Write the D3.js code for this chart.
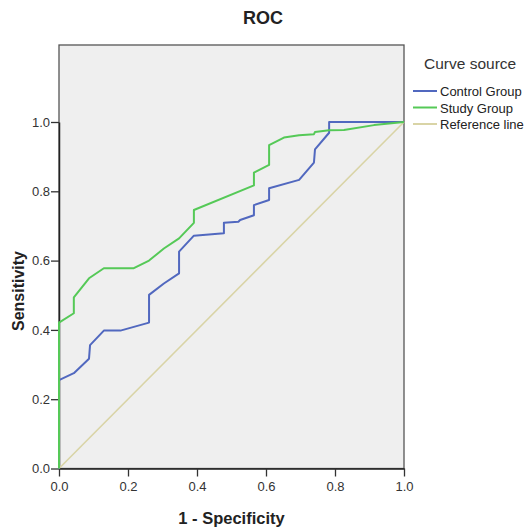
<!DOCTYPE html>
<html>
<head>
<meta charset="utf-8">
<script src="https://cdn.jsdelivr.net/npm/d3@7"></script>
<style>
	body { margin: 0; background: #fff; }
	svg text { font-family: "Liberation Sans", Arial, sans-serif; }
</style>
</head>
<body>
<div id="chart"></div>
<script>
// 1 - specificity / sensitivity
var controlX = [0, 0, 0.043, 0.087, 0.090, 0.130, 0.178, 0.261, 0.261, 0.304, 0.348, 0.348, 0.391, 0.478, 0.478, 0.520, 0.525, 0.565, 0.565, 0.609, 0.609, 0.696, 0.739, 0.742, 0.783, 0.783, 1];
var controlY = [0, 0.255, 0.275, 0.317, 0.356, 0.398, 0.398, 0.421, 0.501, 0.534, 0.563, 0.626, 0.672, 0.679, 0.709, 0.712, 0.717, 0.731, 0.760, 0.775, 0.809, 0.833, 0.883, 0.921, 0.969, 1, 1];

var studyX = [0, 0, 0.043, 0.043, 0.087, 0.130, 0.217, 0.261, 0.304, 0.348, 0.391, 0.391, 0.565, 0.565, 0.609, 0.609, 0.652, 0.696, 0.739, 0.742, 0.783, 0.826, 0.913, 1];
var studyY = [0, 0.421, 0.448, 0.494, 0.549, 0.578, 0.578, 0.600, 0.635, 0.664, 0.709, 0.746, 0.817, 0.854, 0.876, 0.933, 0.955, 0.962, 0.965, 0.971, 0.976, 0.977, 0.991, 1];

var refX = [0, 1];
var refY = [0, 1];

var seriesNames = ["Control Group", "Study Group", "Reference line"];
var seriesColors = ["#5168bf", "#55c957", "#d9d4a6"];
var ticks = [0, 0.2, 0.4, 0.6, 0.8, 1.0];

var width = 528, height = 529;
var plot = {left: 59, right: 404, top: 45, bottom: 468.5};

var svg = d3.select("#chart").append("svg")
	.attr("width", width)
	.attr("height", height);

var x = d3.scaleLinear()
	.domain([0, 1])
	.range([plot.left, plot.right]);

// the frame goes higher than 1.0
var y = d3.scaleLinear()
	.domain([0, 1])
	.range([plot.bottom, 122]);

// fond du graphe
svg.append("rect")
	.attr("x", plot.left)
	.attr("y", plot.top)
	.attr("width", plot.right - plot.left)
	.attr("height", plot.bottom - plot.top)
	.attr("fill", "#efefef")
	.attr("stroke", "#555")
	.attr("stroke-width", 1.3);

// axe x
var xAxis = svg.append("g")
	.attr("transform", "translate(0," + plot.bottom + ")")
	.call(d3.axisBottom(x).tickValues(ticks).tickFormat(d3.format(".1f")).tickSize(8).tickSizeOuter(0));

// axe y
var yAxis = svg.append("g")
	.attr("transform", "translate(" + plot.left + ",0)")
	.call(d3.axisLeft(y).tickValues(ticks).tickFormat(d3.format(".1f")).tickSize(8).tickSizeOuter(0));

[xAxis, yAxis].forEach(function(a) {
	a.select(".domain").attr("stroke", "#222").attr("stroke-width", 1.5);
	a.selectAll(".tick line").attr("stroke", "#333").attr("stroke-width", 1.3);
	a.selectAll(".tick text")
		.attr("fill", "#333")
		.style("font-size", "13px");
});
xAxis.selectAll(".tick text").attr("dy", "0.71em").attr("y", 13);
yAxis.selectAll(".tick text").attr("x", -9);

// courbes
var line = d3.line()
	.x(function(d) { return x(d[0]); })
	.y(function(d) { return y(d[1]); });

var series = [
	d3.zip(controlX, controlY),
	d3.zip(studyX, studyY),
	d3.zip(refX, refY)
];

// reference line first, then the two curves on top
[2, 0, 1].forEach(function(i) {
	svg.append("path")
		.datum(series[i])
		.attr("fill", "none")
		.attr("stroke", seriesColors[i])
		.attr("stroke-width", i == 2 ? 1.6 : 2)
		.attr("stroke-linejoin", "round")
		.attr("d", line);
});

// titres
svg.append("text")
	.attr("x", 263)
	.attr("y", 24)
	.attr("text-anchor", "middle")
	.style("font-size", "18px")
	.style("font-weight", "bold")
	.attr("fill", "#222")
	.text("ROC");

svg.append("text")
	.attr("x", (plot.left + plot.right) / 2)
	.attr("y", 524)
	.attr("text-anchor", "middle")
	.style("font-size", "16.5px")
	.style("font-weight", "bold")
	.attr("fill", "#222")
	.text("1 - Specificity");

svg.append("text")
	.attr("transform", "translate(24," + 291 + ") rotate(-90)")
	.attr("text-anchor", "middle")
	.style("font-size", "16px")
	.style("font-weight", "bold")
	.attr("fill", "#222")
	.text("Sensitivity");

// légende
var legend = svg.append("g");

legend.append("text")
	.attr("x", 424)
	.attr("y", 69)
	.style("font-size", "15.5px")
	.attr("fill", "#333")
	.text("Curve source");

seriesNames.forEach(function(name, i) {
	var ly = 91 + i * 16.5;
	legend.append("line")
		.attr("x1", 413)
		.attr("x2", 437)
		.attr("y1", ly)
		.attr("y2", ly)
		.attr("stroke", seriesColors[i])
		.attr("stroke-width", 2);
	legend.append("text")
		.attr("x", 440)
		.attr("y", ly + 5)
		.style("font-size", "13px")
		.attr("fill", "#222")
		.text(name);
});
</script>
</body>
</html>
